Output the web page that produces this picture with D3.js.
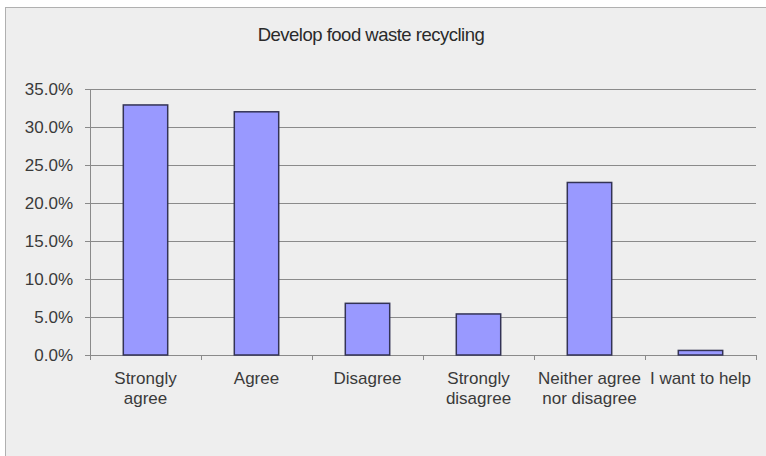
<!DOCTYPE html>
<html><head><meta charset="utf-8">
<script src="https://cdn.jsdelivr.net/npm/d3@7"></script>
<style>html,body{margin:0;padding:0;background:#fff;}svg{display:block;}</style>
</head><body>
<svg id="c" width="766" height="456"></svg>
<script>
const categories = [["Strongly","agree"],["Agree"],["Disagree"],["Strongly","disagree"],["Neither agree","nor disagree"],["I want to help"]];
const values = [32.9, 32.0, 6.8, 5.4, 22.7, 0.6];
const yTicks = [0, 5, 10, 15, 20, 25, 30, 35];
const title = "Develop food waste recycling";

const font = "Liberation Sans, Arial, sans-serif";
const svg = d3.select("#c");
svg.append("rect").attr("x",5.5).attr("y",7.5).attr("width",800).attr("height",500)
  .attr("fill","#eeeeee").attr("stroke","#b0b0b0").attr("stroke-width",1);

const m = {left:90, right:756, top:89, bottom:355};
const x = d3.scaleBand().domain(d3.range(categories.length)).range([m.left, m.right]).paddingInner(0.6).paddingOuter(0.3);
const y = d3.scaleLinear().domain([0,35]).range([m.bottom, m.top]);

svg.append("text").attr("x",371).attr("y",41).attr("text-anchor","middle")
  .attr("font-family",font).attr("font-size",18.5)
  .attr("letter-spacing","-0.5").attr("fill","#2a2a2a").text(title);

// gridlines
svg.append("g").selectAll("line").data(yTicks).join("line")
  .attr("x1",m.left-5).attr("x2",m.right).attr("y1",d=>Math.round(y(d))+0.5).attr("y2",d=>Math.round(y(d))+0.5)
  .attr("stroke","#8a8a8a").attr("stroke-width",1);

// y labels
svg.append("g").selectAll("text").data(yTicks).join("text")
  .attr("x",73).attr("y",d=>y(d)+6).attr("text-anchor","end")
  .attr("font-family",font).attr("font-size",17).attr("fill","#3a3a3a")
  .text(d=>d.toFixed(1)+"%");

// y axis line
svg.append("line").attr("x1",m.left+0.5).attr("x2",m.left+0.5).attr("y1",m.top).attr("y2",m.bottom)
  .attr("stroke","#8a8a8a");

// x ticks
const step = (m.right-m.left)/categories.length;
svg.append("g").selectAll("line").data(d3.range(categories.length+1)).join("line")
  .attr("x1",i=>Math.round(m.left+i*step)+0.5).attr("x2",i=>Math.round(m.left+i*step)+0.5)
  .attr("y1",m.bottom).attr("y2",m.bottom+5).attr("stroke","#8a8a8a");

// bars
svg.append("g").selectAll("rect").data(values).join("rect")
  .attr("x",(d,i)=>x(i)).attr("width",x.bandwidth())
  .attr("y",d=>y(d)).attr("height",d=>y(0)-y(d))
  .attr("fill","#9999ff").attr("stroke","#333355").attr("stroke-width",1.5);

// x labels
const xl = svg.append("g").selectAll("text").data(categories).join("text")
  .attr("text-anchor","middle").attr("font-family",font)
  .attr("font-size",17).attr("fill","#3a3a3a")
  .attr("transform",(d,i)=>`translate(${x(i)+x.bandwidth()/2},384)`);
xl.selectAll("tspan").data(d=>d).join("tspan").attr("x",0).attr("dy",(d,j)=>j===0?0:20).text(d=>d);
</script>
</body></html>
